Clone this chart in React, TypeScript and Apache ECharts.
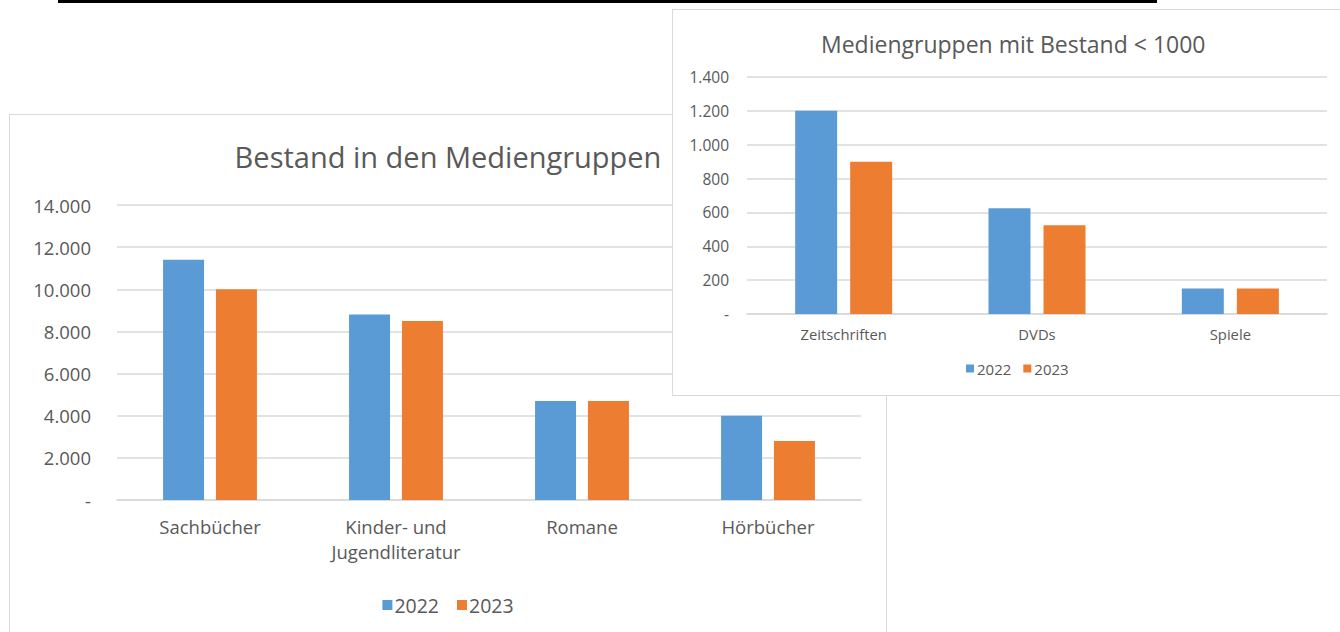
import React, { useEffect, useRef } from "react";
import * as echarts from "echarts";

const mainCategories = ["Sachbücher", "Kinder- und Jugendliteratur", "Romane", "Hörbücher"];
const main2022 = [11400, 8800, 4700, 4000];
const main2023 = [10000, 8500, 4700, 2800];

const smallCategories = ["Zeitschriften", "DVDs", "Spiele"];
const small2022 = [1200, 625, 150];
const small2023 = [900, 525, 150];

const seriesNames = ["2022", "2023"];
const mainTitle = "Bestand in den Mediengruppen";
const smallTitle = "Mediengruppen mit Bestand < 1000";

const BLUE = "#5b9bd5";
const ORANGE = "#ed7d31";
const TEXT = "#595959";
const GRID = "#d9d9d9";
const FONT = "'Open Sans', Lato, sans-serif";

const fmt = (v: number) =>
  v === 0 ? "-" : String(v).replace(/\B(?=(\d{3})+(?!\d))/g, ".");

function useChart(ref: React.RefObject<HTMLDivElement | null>, option: any) {
  useEffect(() => {
    if (!ref.current) return;
    const chart = echarts.init(ref.current, undefined, { renderer: "svg" });
    chart.setOption(option);
    return () => chart.dispose();
  }, []);
}

export default function App() {
  const leftRef = useRef<HTMLDivElement>(null);
  const rightRef = useRef<HTMLDivElement>(null);

  useChart(leftRef, {
    animation: false,
    backgroundColor: "#fff",
    textStyle: { fontFamily: FONT },
    title: {
      text: mainTitle,
      left: "center",
      top: 22,
      textStyle: { fontFamily: FONT, fontSize: 29, fontWeight: "normal", color: TEXT },
    },
    legend: {
      data: seriesNames,
      left: "center",
      top: 475,
      icon: "rect",
      itemWidth: 10,
      itemHeight: 10,
      itemGap: 18,
      textStyle: { fontFamily: FONT, fontSize: 19.5, color: TEXT, padding: [0, 0, 0, -3] },
    },
    grid: { left: 107, top: 90, width: 744, height: 295 },
    xAxis: {
      type: "category",
      data: mainCategories,
      axisTick: { show: false },
      axisLine: { lineStyle: { color: GRID, width: 1.5 } },
      axisLabel: {
        color: TEXT,
        fontFamily: FONT,
        fontSize: 18.5,
        margin: 14,
        lineHeight: 25,
        formatter: (v: string) => v.replace("und ", "und\n"),
      },
    },
    yAxis: {
      type: "value",
      min: 0,
      max: 14000,
      interval: 2000,
      axisLine: { show: false },
      axisTick: { show: false },
      splitLine: { lineStyle: { color: GRID, width: 1.5 } },
      axisLabel: { color: TEXT, fontFamily: FONT, fontSize: 18.5, margin: 26, formatter: fmt },
    },
    series: [
      { name: seriesNames[0], type: "bar", data: main2022, barWidth: 41, barGap: "29%", itemStyle: { color: BLUE } },
      { name: seriesNames[1], type: "bar", data: main2023, barWidth: 41, itemStyle: { color: ORANGE } },
    ],
  });

  useChart(rightRef, {
    animation: false,
    backgroundColor: "#fff",
    textStyle: { fontFamily: FONT },
    title: {
      text: smallTitle,
      left: 143,
      top: 17,
      textStyle: { fontFamily: FONT, fontSize: 23, fontWeight: "normal", color: TEXT },
    },
    legend: {
      data: seriesNames,
      left: 288,
      top: 346,
      icon: "rect",
      itemWidth: 8,
      itemHeight: 8,
      itemGap: 12,
      textStyle: { fontFamily: FONT, fontSize: 15, color: TEXT, padding: [0, 0, 0, -2] },
    },
    grid: { left: 74, top: 67, width: 580, height: 237 },
    xAxis: {
      type: "category",
      data: smallCategories,
      axisTick: { show: false },
      axisLine: { lineStyle: { color: GRID, width: 1.5 } },
      axisLabel: { color: TEXT, fontFamily: FONT, fontSize: 14.8, margin: 12 },
    },
    yAxis: {
      type: "value",
      min: 0,
      max: 1400,
      interval: 200,
      axisLine: { show: false },
      axisTick: { show: false },
      splitLine: { lineStyle: { color: GRID, width: 1.5 } },
      axisLabel: { color: TEXT, fontFamily: FONT, fontSize: 15.5, margin: 18, formatter: fmt },
    },
    series: [
      { name: seriesNames[0], type: "bar", data: small2022, barWidth: 42, barGap: "31%", itemStyle: { color: BLUE } },
      { name: seriesNames[1], type: "bar", data: small2023, barWidth: 42, itemStyle: { color: ORANGE } },
    ],
  });

  return (
    <div
      style={{
        position: "absolute",
        left: 0,
        top: 0,
        width: 1340,
        height: 632,
        overflow: "hidden",
        background: "#fff",
      }}
    >
      <div
        style={{ position: "absolute", left: 58, top: 0, width: 1099, height: 3, background: "#000" }}
      />
      <div
        style={{
          position: "absolute",
          left: 9,
          top: 114,
          width: 878,
          height: 540,
          border: "2px solid " + GRID,
          boxSizing: "border-box",
          background: "#fff",
        }}
      >
        <div ref={leftRef} style={{ position: "absolute", left: -1, top: -1, width: 876, height: 536 }} />
      </div>
      <div
        style={{
          position: "absolute",
          left: 672,
          top: 9,
          width: 680,
          height: 387,
          border: "2px solid " + GRID,
          boxSizing: "border-box",
          background: "#fff",
        }}
      >
        <div ref={rightRef} style={{ position: "absolute", left: -1, top: -1, width: 667, height: 385 }} />
      </div>
    </div>
  );
}
